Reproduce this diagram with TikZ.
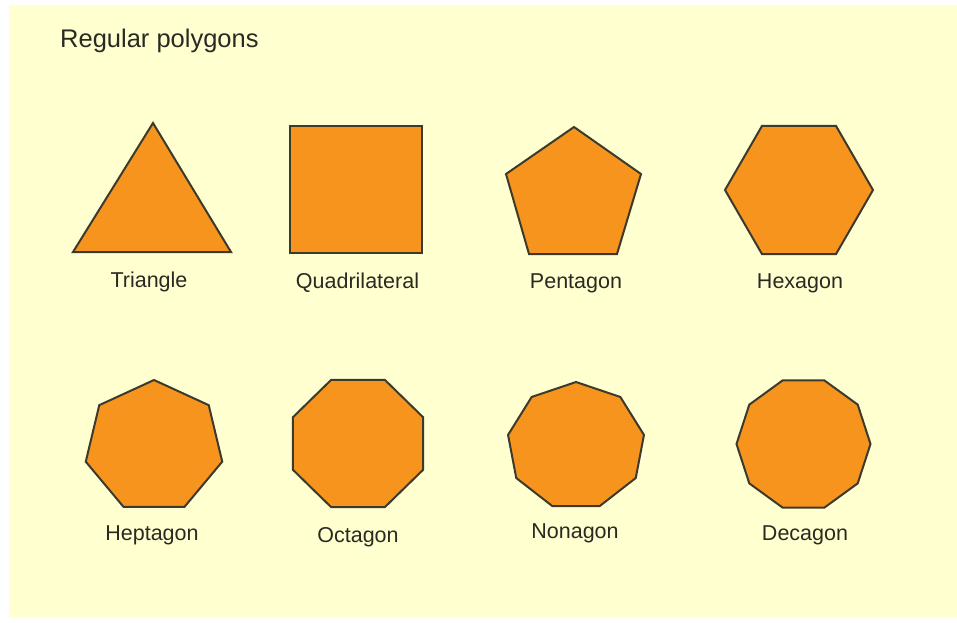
\documentclass[tikz,border=0pt]{standalone}
\usepackage{fontspec}
\setmainfont{Liberation Sans}
\definecolor{bgyellow}{HTML}{FFFFD0}
\definecolor{polyfill}{HTML}{F7941E}
\definecolor{polyline}{HTML}{3C3A2C}
\definecolor{txt}{HTML}{2A2A22}
\begin{document}
\begin{tikzpicture}[x=1pt,y=-1pt,
  poly/.style={fill=polyfill,draw=polyline,line width=2pt,line join=miter},
  lbl/.style={anchor=base,inner sep=0pt,text=txt,font=\fontsize{21.5}{25}\selectfont},
  ttl/.style={anchor=base west,inner sep=0pt,text=txt,font=\fontsize{25.5}{30}\selectfont}]
\useasboundingbox (0,0) rectangle (957,622);
\fill[white] (0,0) rectangle (957,622);
\fill[bgyellow] (9,5) rectangle (957,617);
\node[ttl] (title) at (60,47) {Regular polygons};
% row 1
\draw[poly] (153,123) -- (231,252) -- (73,252) -- cycle;
\draw[poly] (290,126) rectangle (422,253);
\draw[poly] (574,127) -- (641,174) -- (617,254) -- (529,254) -- (506,174) -- cycle;
\draw[poly] plot[samples at={0,60,...,300}] ({799+74*cos(\x)},{190-74*sin(\x)}) -- cycle;
% row 2
\draw[poly] plot[samples at={0,1,...,6}] ({154+70*cos(90+\x*360/7)},{446.8-66.8*sin(90+\x*360/7)}) -- cycle;
\draw[poly] plot[samples at={0,1,...,7}] ({358+70.4*cos(22.5+\x*45)},{443.5-68.8*sin(22.5+\x*45)}) -- cycle;
\draw[poly] plot[samples at={0,1,...,8}] ({576+69*cos(90+\x*40)},{446-64*sin(90+\x*40)}) -- cycle;
\draw[poly] plot[samples at={0,1,...,9}] ({803.5+67*cos(\x*36)},{444-67*sin(\x*36)}) -- cycle;
% labels
\node[lbl] (ltri) at (149,287) {Triangle};
\node[lbl] (lquad) at (357.5,288) {Quadrilateral};
\node[lbl] (lpent) at (576,288) {Pentagon};
\node[lbl] (lhex) at (800,288) {Hexagon};
\node[lbl] (lhept) at (152,540) {Heptagon};
\node[lbl] (loct) at (358,542) {Octagon};
\node[lbl] (lnon) at (575,538) {Nonagon};
\node[lbl] (ldec) at (805,540) {Decagon};
\end{tikzpicture}
\end{document}
